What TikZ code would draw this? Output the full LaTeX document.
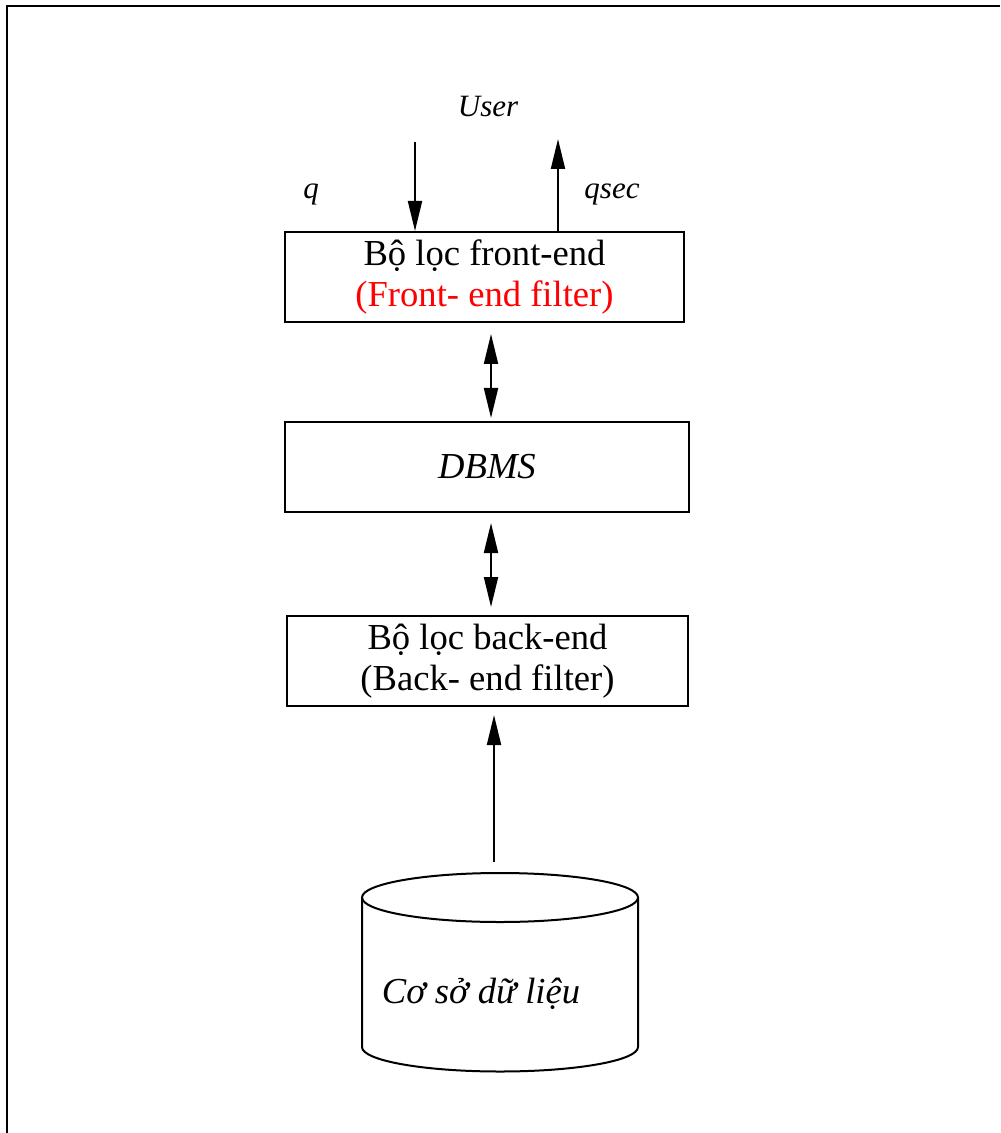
\documentclass[tikz,border=0pt]{standalone}
\usepackage{fontspec}
\setmainfont{Liberation Serif}
\usetikzlibrary{arrows.meta,calc}
\begin{document}
\begin{tikzpicture}[x=0.5pt,y=-0.5pt,
  box/.style={draw, line width=1pt, inner sep=0pt, align=center,
    font=\fontsize{18.3}{20.5}\selectfont},
  lbl/.style={font=\fontsize{15.5}{18}\selectfont\itshape, inner sep=0pt},
  tip/.tip={Triangle[length=15pt,width=7pt]},
  arr/.style={line width=1pt, -tip},
  darr/.style={line width=1pt, tip-tip}]
\useasboundingbox (0,0) rectangle (1000,1133);
% page frame (top and left edges)
\draw[line width=1pt] (6.5,1133) -- (6.5,6.5) -- (1000,6.5);

% filter chain
\node[box, minimum width=199.5pt, minimum height=45pt] (front) at (484.5,277)
  {Bộ lọc front-end\\\textcolor{red}{(Front- end filter)}};
\node[box, minimum width=202pt, minimum height=45pt] (dbms) at (487,467)
  {\itshape DBMS};
\node[box, minimum width=200.5pt, minimum height=45pt] (back) at (487.5,661)
  {Bộ lọc back-end\\(Back- end filter)};

% user side
\node[lbl, anchor=base] (user) at (488,117) {User};
\node[lbl, anchor=base] (q) at (311,199) {q};
\node[lbl, anchor=base] (qsec) at (612,199) {qsec};
\coordinate (qin) at (415,142);
\coordinate (qout) at (558,139);
\draw[arr] (qin) -- (qin |- front.north);
\draw[arr] (qout |- front.north) -- (qout);

% links between the layers
\coordinate (l1) at (491,300);
\draw[darr, shorten <=5.5pt, shorten >=1.5pt] (l1 |- front.south) -- (l1 |- dbms.north);
\draw[darr, shorten <=5pt, shorten >=4pt] (l1 |- dbms.south) -- (l1 |- back.north);

% database cylinder
\draw[line width=1pt] (500,897.5) ellipse [x radius=138, y radius=24.5];
\draw[line width=1pt] (362,897.5) -- (362,1047)
  arc[start angle=180, end angle=0, x radius=138, y radius=24.5] -- (638,897.5);
\node[anchor=base, inner sep=0pt, font=\fontsize{18.3}{20.5}\selectfont\itshape] (db)
  at (481,1003) {Cơ sở dữ liệu};
\coordinate (dbtop) at (494,862);
\draw[arr, shorten >=4pt] (dbtop) -- (dbtop |- back.south);
\end{tikzpicture}
\end{document}
